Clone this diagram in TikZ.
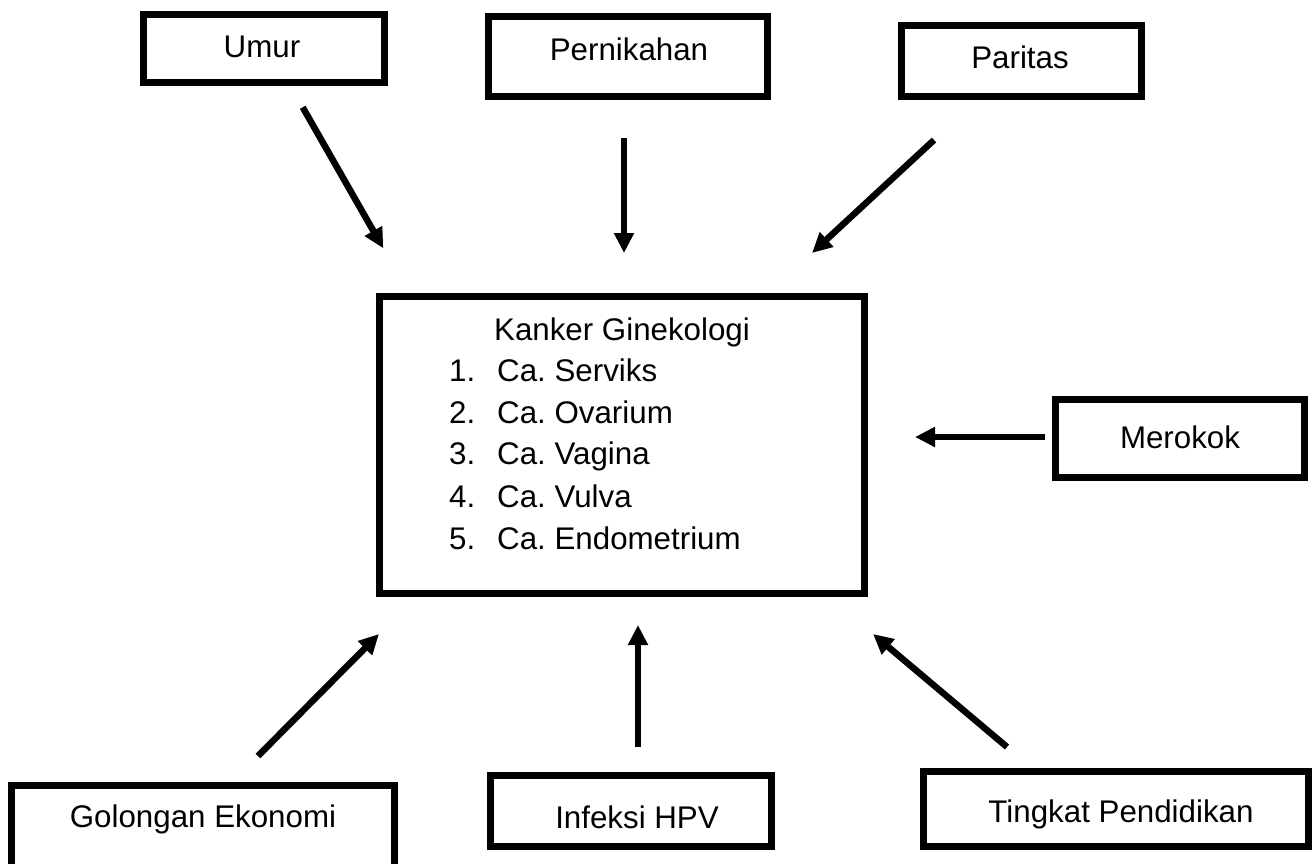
\documentclass[tikz,border=0pt]{standalone}
\usepackage{fontspec}
\setmainfont{Liberation Sans}
\usetikzlibrary{arrows.meta}
\begin{document}
\frenchspacing
\begin{tikzpicture}[x=1pt,y=-1pt,
  box/.style={draw=black,line width=7pt,rectangle,inner sep=0pt,fill=none},
  lbl/.style={anchor=base,inner sep=0pt,font=\fontsize{31.3}{37}\selectfont},
  lbll/.style={anchor=base west,inner sep=0pt,font=\fontsize{31.3}{37}\selectfont},
  arr/.style={line width=6.5pt,-{Triangle[width=19pt,length=20pt]}}]
\useasboundingbox (0,0) rectangle (1313,863);
\clip (0,0) rectangle (1313,863);
% boxes
\node[box,minimum width=241pt,minimum height=68pt] (umur) at (264,48.5) {};
\node[box,minimum width=279pt,minimum height=80pt] (nikah) at (628,56.5) {};
\node[box,minimum width=240pt,minimum height=71pt] (paritas) at (1021.5,61) {};
\node[box,minimum width=485pt,minimum height=297pt] (kanker) at (622,445) {};
\node[box,minimum width=249pt,minimum height=78pt] (rokok) at (1180,438.5) {};
\node[box,minimum width=383pt,minimum height=94.5pt] (ekonomi) at (203,832.75) {};
\node[box,minimum width=281pt,minimum height=71pt] (hpv) at (631,811) {};
\node[box,minimum width=385pt,minimum height=75pt] (didik) at (1116,809) {};
% texts
\node[lbl] (tumur) at (262,57) {Umur};
\node[lbl] (tnikah) at (629,60) {Pernikahan};
\node[lbl] (tparitas) at (1020,68) {Paritas};
\node[lbl] (tkanker) at (622,340) {Kanker Ginekologi};
\node[lbll] (n1) at (449,381) {1.};
\node[lbll] (n2) at (449,423) {2.};
\node[lbll] (n3) at (449,464) {3.};
\node[lbll] (n4) at (449,507) {4.};
\node[lbll] (n5) at (449,549) {5.};
\node[lbll] (i1) at (497,381) {Ca. Serviks};
\node[lbll] (i2) at (497,423) {Ca. Ovarium};
\node[lbll] (i3) at (497,464) {Ca. Vagina};
\node[lbll] (i4) at (497,507) {Ca. Vulva};
\node[lbll] (i5) at (497,549) {Ca. Endometrium};
\node[lbl] (trokok) at (1180,448) {Merokok};
\node[lbl] (tekonomi) at (203,827) {Golongan Ekonomi};
\node[lbl] (thpv) at (637,828) {Infeksi HPV};
\node[lbl] (tdidik) at (1121,822) {Tingkat Pendidikan};
% arrow end points
\coordinate (a1s) at (302.7,107.3); \coordinate (a1e) at (383.3,248.3);
\coordinate (a2s) at (624,138);     \coordinate (a2e) at (624,253);
\coordinate (a3s) at (934,140);     \coordinate (a3e) at (812,253);
\coordinate (a4s) at (1045,437);    \coordinate (a4e) at (915,437);
\coordinate (a5s) at (258,756);     \coordinate (a5e) at (379,634);
\coordinate (a6s) at (638,747);     \coordinate (a6e) at (638,625);
\coordinate (a7s) at (1007,747);    \coordinate (a7e) at (873,634);
\draw[arr] (a1s) -- (a1e);
\draw[arr] (a2s) -- (a2e);
\draw[arr] (a3s) -- (a3e);
\draw[arr] (a4s) -- (a4e);
\draw[arr] (a5s) -- (a5e);
\draw[arr] (a6s) -- (a6e);
\draw[arr] (a7s) -- (a7e);
\end{tikzpicture}
\end{document}
